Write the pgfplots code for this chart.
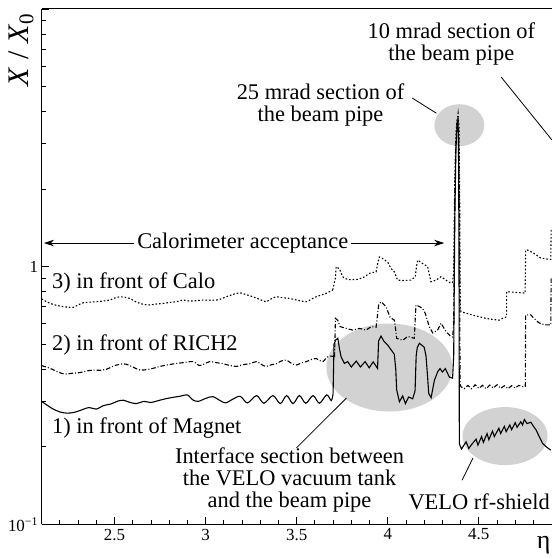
\documentclass[border=0pt]{standalone}
\usepackage{fontspec}
\setmainfont{Liberation Serif}
\usepackage{pgfplots}
\pgfplotsset{compat=1.18}
\usetikzlibrary{arrows.meta}
\newcommand\af{\fontsize{22.5}{22}\selectfont}
\begin{document}
\begin{tikzpicture}
\begin{axis}[
 name=ax,
 scale only axis, width=510.1bp, height=515.3bp,
 ymode=log, xmin=2.1, xmax=4.9, ymin=0.1, ymax=10,
 axis x line*=box, axis y line*=left,
 xtick pos=left, ytick pos=left,
 tick align=inside,
 clip=false,
 axis line style={line width=1bp, black},
 major tick length=7bp, minor tick length=4bp,
 every tick/.style={line width=0.8bp, black},
 xtick={2.5,3,3.5,4,4.5},
 minor xtick={2.2,2.3,2.4,2.6,2.7,2.8,2.9,3.1,3.2,3.3,3.4,3.6,3.7,3.8,3.9,4.1,4.2,4.3,4.4,4.6,4.7,4.8},
 ytick={0.1,1,10},
 yticklabels={10\textsuperscript{−1},1,{}},
 /pgf/number format/assume math mode=true,
 tick label style={font=\fontsize{17}{19}\selectfont},
 xticklabel style={yshift=-1bp},
]
% grey ellipses (background)
\fill[gray!35] (axis cs:4.009,0.406) ellipse [x radius=63bp, y radius=44bp];
\fill[gray!35] (axis cs:4.644,0.220) ellipse [x radius=42.5bp, y radius=29bp];
\fill[gray!35] (axis cs:4.393,3.54) ellipse [x radius=25bp, y radius=21bp];

% 1) in front of Magnet (solid)
\addplot[black, line width=1.1bp, mark=none, smooth, tension=0.5] coordinates {
(2.10,0.300)(2.13,0.290)(2.16,0.281)(2.20,0.273)(2.24,0.270)(2.28,0.272)(2.32,0.278)(2.36,0.284)(2.40,0.280)(2.44,0.289)(2.48,0.293)(2.52,0.301)(2.55,0.303)(2.58,0.298)(2.62,0.294)(2.66,0.300)(2.70,0.297)(2.74,0.302)(2.78,0.307)(2.82,0.311)(2.86,0.314)(2.90,0.318)(2.93,0.304)(2.96,0.300)(3.00,0.308)(3.04,0.313)(3.08,0.302)(3.11,0.296)(3.15,0.306)
(3.19,0.314)(3.23,0.296)(3.28,0.316)(3.32,0.295)(3.37,0.316)(3.41,0.294)(3.445,0.316)(3.48,0.294)(3.515,0.316)(3.55,0.295)(3.59,0.316)(3.625,0.295)(3.665,0.318)(3.69,0.302)(3.70,0.322)
};
\addplot[black, line width=1.1bp, mark=none] coordinates {
(3.70,0.322)(3.705,0.50)(3.715,0.52)(3.726,0.527)(3.735,0.48)(3.744,0.447)(3.762,0.421)(3.78,0.428)(3.80,0.408)(3.827,0.430)(3.85,0.408)(3.876,0.428)(3.898,0.405)(3.92,0.427)(3.944,0.403)(3.950,0.515)(3.963,0.538)(3.98,0.512)(4.00,0.496)(4.018,0.476)(4.036,0.457)(4.044,0.40)(4.049,0.333)(4.064,0.299)(4.082,0.315)(4.097,0.294)(4.115,0.312)(4.137,0.307)(4.150,0.330)(4.156,0.45)(4.162,0.485)(4.174,0.504)(4.20,0.487)(4.21,0.450)(4.218,0.38)(4.225,0.322)(4.238,0.310)(4.256,0.362)(4.275,0.392)(4.287,0.402)(4.30,0.390)(4.316,0.402)(4.338,0.373)(4.356,0.369)
(4.362,0.45)(4.368,1.5)(4.374,2.8)(4.380,3.5)(4.384,3.62)(4.388,3.3)(4.391,1.2)(4.393,0.205)
(4.405,0.196)(4.43,0.209)(4.445,0.197)(4.46,0.204)(4.485,0.214)(4.495,0.203)(4.515,0.219)(4.525,0.208)(4.545,0.225)(4.555,0.213)(4.575,0.230)(4.585,0.219)(4.61,0.236)(4.62,0.225)(4.64,0.240)(4.65,0.229)(4.67,0.243)(4.68,0.233)(4.70,0.248)(4.71,0.238)(4.73,0.250)(4.74,0.243)(4.75,0.255)(4.765,0.246)(4.785,0.249)(4.80,0.240)(4.815,0.232)(4.83,0.220)(4.85,0.206)(4.87,0.200)(4.895,0.194)
};

% 2) in front of RICH2 (dash-dot)
\addplot[black, line width=1.1bp, mark=none, smooth, tension=0.5, dash pattern=on 4.5bp off 2bp on 1bp off 2bp] coordinates {
(2.10,0.413)(2.146,0.403)(2.19,0.390)(2.228,0.383)(2.27,0.386)(2.31,0.388)(2.35,0.394)(2.383,0.397)(2.42,0.396)(2.457,0.400)(2.49,0.410)(2.511,0.415)(2.54,0.419)(2.566,0.418)(2.60,0.408)(2.64,0.397)(2.68,0.399)(2.712,0.403)(2.75,0.410)(2.785,0.415)(2.83,0.420)(2.876,0.424)(2.93,0.428)(2.968,0.413)(3.00,0.422)(3.023,0.428)(3.06,0.424)(3.096,0.420)(3.13,0.414)(3.169,0.410)(3.20,0.416)(3.242,0.420)(3.279,0.428)(3.31,0.416)(3.333,0.410)(3.36,0.416)(3.388,0.420)(3.415,0.430)(3.443,0.434)(3.47,0.422)(3.498,0.415)(3.525,0.423)(3.553,0.428)(3.58,0.436)(3.607,0.440)(3.625,0.433)(3.644,0.428)(3.66,0.440)(3.68,0.450)(3.708,0.447)
};
\addplot[black, line width=1.1bp, mark=none, dash pattern=on 4.5bp off 2bp on 1bp off 2bp] coordinates {
(3.708,0.447)(3.713,0.63)(3.725,0.62)(3.739,0.585)(3.772,0.576)(3.808,0.567)(3.845,0.576)(3.881,0.567)(3.909,0.585)(3.936,0.582)(3.945,0.66)(3.95,0.71)(3.963,0.731)(3.99,0.700)(4.013,0.636)(4.036,0.620)(4.045,0.56)(4.049,0.527)(4.082,0.518)(4.11,0.536)(4.146,0.527)(4.152,0.65)(4.155,0.710)(4.174,0.700)(4.19,0.69)(4.206,0.659)(4.228,0.585)(4.247,0.553)(4.274,0.567)(4.292,0.603)(4.32,0.560)(4.347,0.535)(4.356,0.533)
(4.362,0.60)(4.368,1.8)(4.374,3.0)(4.380,3.6)(4.386,3.8)(4.390,3.3)(4.394,1.5)(4.397,0.35)(4.402,0.342)
(4.42,0.336)(4.44,0.346)(4.46,0.336)(4.48,0.348)(4.50,0.337)(4.52,0.346)(4.54,0.336)(4.56,0.347)(4.58,0.338)(4.60,0.348)(4.62,0.337)(4.64,0.345)(4.66,0.336)(4.68,0.345)(4.70,0.338)(4.72,0.346)(4.745,0.342)(4.755,0.343)(4.757,0.65)(4.785,0.650)(4.80,0.633)(4.83,0.605)(4.86,0.595)(4.886,0.594)(4.895,0.594)(4.897,0.91)
};

% 3) in front of Calo (dotted)
\addplot[black, line width=1.1bp, mark=none, smooth, tension=0.5, dash pattern=on 1.6bp off 2bp] coordinates {
(2.10,0.750)(2.128,0.731)(2.16,0.715)(2.20,0.703)(2.24,0.697)(2.274,0.695)(2.30,0.710)(2.328,0.724)(2.36,0.728)(2.402,0.731)(2.44,0.736)(2.475,0.742)(2.50,0.755)(2.53,0.764)(2.56,0.760)(2.584,0.753)(2.61,0.735)(2.64,0.720)(2.67,0.712)(2.694,0.710)(2.73,0.716)(2.767,0.720)(2.80,0.726)(2.84,0.731)(2.876,0.742)(2.913,0.735)(2.95,0.738)(2.986,0.742)(3.02,0.741)(3.06,0.742)(3.09,0.752)(3.114,0.764)(3.15,0.780)(3.187,0.792)(3.22,0.780)(3.26,0.764)(3.30,0.745)(3.333,0.731)(3.36,0.750)(3.388,0.764)(3.42,0.758)(3.461,0.753)(3.50,0.742)(3.553,0.731)(3.58,0.748)(3.607,0.764)(3.635,0.776)(3.662,0.788)(3.698,0.812)
};
\addplot[black, line width=1.1bp, mark=none, dash pattern=on 1.6bp off 2bp] coordinates {
(3.698,0.812)(3.712,0.90)(3.717,1.000)(3.735,0.980)(3.753,0.914)(3.763,0.900)(3.79,0.890)(3.826,0.890)(3.863,0.905)(3.90,0.942)(3.936,0.955)(3.945,1.03)(3.954,1.090)(3.972,1.075)(4.00,1.040)(4.018,0.985)(4.036,0.955)(4.054,0.887)(4.09,0.883)(4.127,0.887)(4.151,0.914)(4.158,1.0)(4.164,1.060)(4.19,1.030)(4.219,1.000)(4.23,0.92)(4.237,0.874)(4.265,0.886)(4.292,0.914)(4.32,0.886)(4.347,0.862)(4.356,0.870)
(4.362,0.95)(4.368,2.2)(4.374,3.2)(4.380,3.7)(4.386,3.94)(4.391,3.5)(4.395,1.8)(4.398,0.70)(4.402,0.668)
(4.43,0.660)(4.465,0.649)(4.50,0.640)(4.539,0.630)(4.575,0.624)(4.612,0.620)(4.64,0.635)(4.652,0.638)(4.653,0.80)(4.70,0.795)(4.754,0.790)(4.757,1.16)(4.767,1.16)(4.80,1.13)(4.84,1.08)(4.886,1.067)(4.895,1.067)(4.897,1.40)
};

% labels
\node[anchor=west, inner sep=0pt, font=\af] at (axis cs:2.157,0.864) {3) in front of Calo};
\node[anchor=west, inner sep=0pt, font=\af] at (axis cs:2.157,0.496) {2) in front of RICH2};
\node[anchor=west, inner sep=0pt, font=\af] at (axis cs:2.157,0.236) {1) in front of Magnet};

\draw[{Stealth[length=10bp,width=6.5bp]}-{Stealth[length=10bp,width=6.5bp]}, line width=0.8bp] (axis cs:2.113,1.235) -- (axis cs:4.31,1.235);
\node[fill=white, inner xsep=3bp, inner ysep=0pt, font=\af] at (axis cs:3.204,1.235) {Calorimeter acceptance};

\node[align=center, font=\af, inner sep=0pt] at (axis cs:3.461,0.1486) {Interface section between\\the VELO vacuum tank\\and the beam pipe};
\node[font=\af, inner sep=0pt] at (axis cs:4.502,0.122) {VELO rf-shield};
\node[align=center, font=\af, inner sep=0pt] at (axis cs:3.631,4.24) {25 mrad section of\\the beam pipe};
\node[align=center, font=\af, inner sep=0pt] at (axis cs:4.349,7.31) {10 mrad section of\\the beam pipe};

\draw[line width=0.8bp] (axis cs:4.135,4.51) -- (axis cs:4.267,3.94);
\draw[line width=0.8bp] (axis cs:4.623,5.44) -- (axis cs:4.9,3.11);
\draw[line width=0.8bp] (axis cs:3.499,0.198) -- (axis cs:3.773,0.309);
\draw[line width=0.8bp] (axis cs:4.468,0.181) -- (axis cs:4.408,0.1483);

\node[rotate=90, font=\fontsize{30}{30}\selectfont, inner sep=0pt] at (rel axis cs:-0.0404,0.9204) {\textit{X}\hspace{0.25em}/\hspace{0.25em}\textit{X}\textsubscript{0}};
\node[font=\fontsize{26}{26}\selectfont, inner sep=0pt, anchor=base] at (rel axis cs:0.984,-0.047) {η};
\end{axis}
\pgfresetboundingbox
\path[use as bounding box] ([xshift=-41.6bp,yshift=-33.7bp]ax.south west) rectangle ([xshift=1.3bp,yshift=9bp]ax.north east);
\end{tikzpicture}
\end{document}
